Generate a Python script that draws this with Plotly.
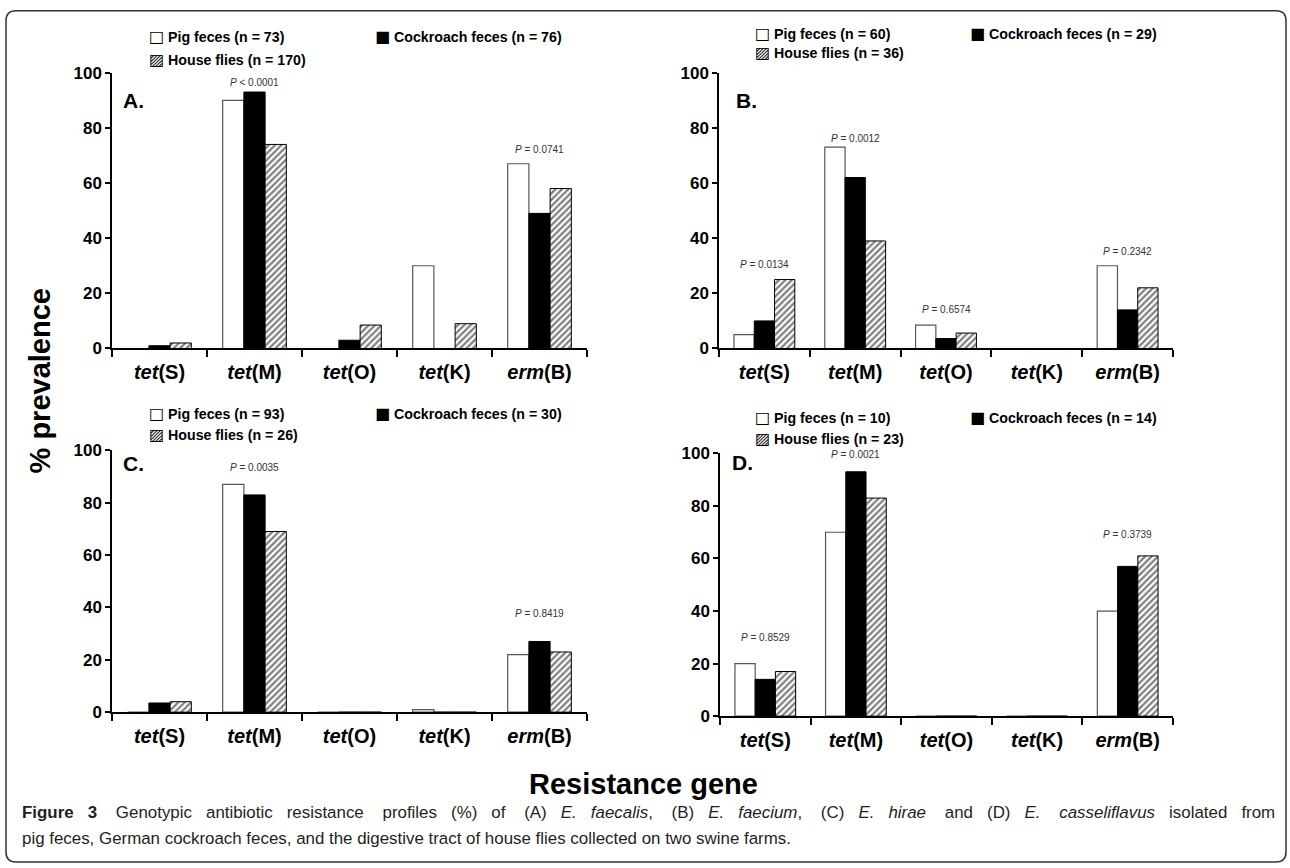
import plotly.graph_objects as go

# ---------------- data ----------------
genes = ["tet(S)", "tet(M)", "tet(O)", "tet(K)", "erm(B)"]
gene_ticktext = ["<i>tet</i>(S)", "<i>tet</i>(M)", "<i>tet</i>(O)", "<i>tet</i>(K)", "<i>erm</i>(B)"]
series_names = ["Pig feces", "Cockroach feces", "House flies"]

A_pig = [0, 90, 0, 30, 67]
A_cockroach = [1, 93, 3, 0, 49]
A_flies = [2, 74, 8.5, 9, 58]
A_n = [73, 76, 170]

B_pig = [5, 73, 8.5, 0, 30]
B_cockroach = [10, 62, 3.6, 0, 14]
B_flies = [25, 39, 5.6, 0, 22]
B_n = [60, 29, 36]

C_pig = [0, 87, 0, 1, 22]
C_cockroach = [3.5, 83, 0, 0, 27]
C_flies = [4, 69, 0, 0, 23]
C_n = [93, 30, 26]

D_pig = [20, 70, 0, 0, 40]
D_cockroach = [14, 93, 0, 0, 57]
D_flies = [17, 83, 0, 0, 61]
D_n = [10, 14, 23]

# p-values: (gene, text)
A_pvals = [("tet(M)", "< 0.0001"), ("erm(B)", "= 0.0741")]
B_pvals = [("tet(S)", "= 0.0134"), ("tet(M)", "= 0.0012"), ("tet(O)", "= 0.6574"), ("erm(B)", "= 0.2342")]
C_pvals = [("tet(M)", "= 0.0035"), ("erm(B)", "= 0.8419")]
D_pvals = [("tet(S)", "= 0.8529"), ("tet(M)", "= 0.0021"), ("erm(B)", "= 0.3739")]

# label heights (annotation placement, in axis units)
A_plab_y = [96.5, 72]
B_plab_y = [30.6, 76.3, 14.3, 35.2]
C_plab_y = [93.6, 37.5]
D_plab_y = [30, 99.5, 69]

# ---------------- layout helpers ----------------
W, H = 1290, 868
def px(x):
    return x / W
def py(y):
    # screen-pixel target -> paper fraction (compensates the capture's vertical offset/scale)
    yy = (y - 8.2) / 0.979
    return 1 - yy / H

FONT = "Liberation Sans"

panels = [
    dict(name="A", pig=A_pig, ck=A_cockroach, fl=A_flies, n=A_n, pv=A_pvals, ply=A_plab_y,
         x0=112, x1=587, ytop=72, ybot=348, letter=(133, 100),
         leg=dict(pig=(147, 36), ck=(373, 36), fl=(147, 59))),
    dict(name="B", pig=B_pig, ck=B_cockroach, fl=B_flies, n=B_n, pv=B_pvals, ply=B_plab_y,
         x0=719, x1=1173, ytop=72, ybot=348, letter=(746, 100),
         leg=dict(pig=(753, 33), ck=(968, 33), fl=(753, 52))),
    dict(name="C", pig=C_pig, ck=C_cockroach, fl=C_flies, n=C_n, pv=C_pvals, ply=C_plab_y,
         x0=112, x1=587, ytop=450, ybot=712, letter=(133, 463),
         leg=dict(pig=(147, 413), ck=(373, 413), fl=(147, 434))),
    dict(name="D", pig=D_pig, ck=D_cockroach, fl=D_flies, n=D_n, pv=D_pvals, ply=D_plab_y,
         x0=720, x1=1173, ytop=453, ybot=716, letter=(742, 462),
         leg=dict(pig=(753, 417), ck=(968, 417), fl=(753, 438))),
]

fig = go.Figure()
annotations = []
layout_axes = {}

for i, p in enumerate(panels, start=1):
    xs = "" if i == 1 else str(i)
    xref, yref = "x" + xs, "y" + xs
    fig.add_trace(go.Bar(
        x=genes, y=p["pig"], name=series_names[0], xaxis=xref, yaxis=yref,
        marker=dict(color="white", line=dict(color="#555555", width=1.2)),
        showlegend=False, hoverinfo="x+y"))
    fig.add_trace(go.Bar(
        x=genes, y=p["ck"], name=series_names[1], xaxis=xref, yaxis=yref,
        marker=dict(color="black", line=dict(color="black", width=1)),
        showlegend=False, hoverinfo="x+y"))
    fig.add_trace(go.Bar(
        x=genes, y=p["fl"], name=series_names[2], xaxis=xref, yaxis=yref,
        marker=dict(color="white", line=dict(color="black", width=1),
                    pattern=dict(shape="/", fgcolor="black", bgcolor="white", size=4.5, solidity=0.5)),
        showlegend=False, hoverinfo="x+y"))

    layout_axes["xaxis" + xs] = dict(
        domain=[px(p["x0"]), px(p["x1"])], anchor=yref,
        type="category", categoryorder="array", categoryarray=genes,
        tickvals=genes, ticktext=gene_ticktext,
        tickson="boundaries", ticks="outside", ticklen=7, tickwidth=1.5, tickcolor="black",
        ticklabelstandoff=5,
        showline=True, linecolor="black", linewidth=1.5, showgrid=False, zeroline=False,
        tickfont=dict(family=FONT, size=20, color="black", weight="bold"),
        fixedrange=True)
    layout_axes["yaxis" + xs] = dict(
        domain=[py(p["ybot"]), py(p["ytop"])], anchor=xref,
        range=[0, 100], dtick=20, ticks="outside", ticklen=5, tickwidth=1.5, tickcolor="black",
        showline=True, linecolor="black", linewidth=1.5, showgrid=False, zeroline=False,
        tickfont=dict(family=FONT, size=17, color="black", weight="bold"),
        fixedrange=True)

    # p-value labels
    for (g, t), yy in zip(p["pv"], p["ply"]):
        annotations.append(dict(x=g, y=yy, xref=xref, yref=yref, text="<i>P</i> " + t,
                                showarrow=False, xanchor="center", yanchor="middle",
                                font=dict(family=FONT, size=10, color="#333333")))
    # panel letter
    lx, ly = p["letter"]
    annotations.append(dict(x=px(lx), y=py(ly), xref="paper", yref="paper", text=p["name"] + ".",
                            showarrow=False, xanchor="center", yanchor="middle",
                            font=dict(family=FONT, size=21, color="black", weight="bold")))
    # legend entries
    glyphs = ["\u25a1", "\u25a0", "\u25a8"]
    keys = ["pig", "ck", "fl"]
    for g, k, nm, nn in zip(glyphs, keys, series_names, p["n"]):
        lx, ly = p["leg"][k]
        annotations.append(dict(x=px(lx), y=py(ly), xref="paper", yref="paper",
                                text=f"<span style='font-family:DejaVu Sans;font-size:16px'>{g}</span> {nm} (n = {nn})",
                                showarrow=False, xanchor="left", yanchor="middle",
                                font=dict(family=FONT, size=14.2, color="black", weight="bold")))

# shared axis titles
annotations.append(dict(x=px(40), y=py(381), xref="paper", yref="paper", text="% prevalence",
                        textangle=-90, showarrow=False, xanchor="center", yanchor="middle",
                        font=dict(family=FONT, size=29, color="black", weight="bold")))
annotations.append(dict(x=px(643), y=py(784), xref="paper", yref="paper", text="Resistance gene",
                        showarrow=False, xanchor="center", yanchor="middle",
                        font=dict(family=FONT, size=29, color="black", weight="bold")))

# caption (first line is justified in the original: widen the word gaps)
cap1_words = ["<b>Figure", "3</b>", "Genotypic", "antibiotic", "resistance", "profiles", "(%)", "of", "(A)",
              "<i>E.", "faecalis</i>,", "(B)", "<i>E.", "faecium</i>,", "(C)", "<i>E.", "hirae</i>", "and",
              "(D)", "<i>E.", "casseliflavus</i>", "isolated", "from"]
cap1 = cap1_words[0]
for j, wd in enumerate(cap1_words[1:]):
    gap = " " + "\u00a0" * (3 if j % 3 == 1 else 2)
    cap1 += gap + wd
cap2 = "pig feces, German cockroach feces, and the digestive tract of house flies collected on two swine farms."
annotations.append(dict(x=px(20), y=py(812), xref="paper", yref="paper", text=cap1,
                        showarrow=False, xanchor="left", yanchor="middle",
                        font=dict(family=FONT, size=16.9, color="#231f20")))
annotations.append(dict(x=px(20), y=py(838), xref="paper", yref="paper", text=cap2,
                        showarrow=False, xanchor="left", yanchor="middle",
                        font=dict(family=FONT, size=16.9, color="#231f20")))

# rounded border
x0b, y0b, x1b, y1b, r = 6, 10, 1286, 862, 10
path = (f"M {px(x0b + r)},{py(y0b)} L {px(x1b - r)},{py(y0b)} "
        f"Q {px(x1b)},{py(y0b)} {px(x1b)},{py(y0b + r)} "
        f"L {px(x1b)},{py(y1b - r)} Q {px(x1b)},{py(y1b)} {px(x1b - r)},{py(y1b)} "
        f"L {px(x0b + r)},{py(y1b)} Q {px(x0b)},{py(y1b)} {px(x0b)},{py(y1b - r)} "
        f"L {px(x0b)},{py(y0b + r)} Q {px(x0b)},{py(y0b)} {px(x0b + r)},{py(y0b)} Z")

fig.update_layout(
    width=W, height=H, margin=dict(l=0, r=0, t=0, b=0),
    paper_bgcolor="white", plot_bgcolor="white",
    barmode="group", bargap=0.33, bargroupgap=0,
    showlegend=False,
    annotations=annotations,
    shapes=[dict(type="path", path=path, xref="paper", yref="paper",
                 line=dict(color="#333333", width=1.5), fillcolor="rgba(0,0,0,0)")],
    **layout_axes,
)

fig.write_html(
    "out.html",
    config={"displayModeBar": False},
    post_script=("document.body.style.margin='0';document.body.style.padding='0';"
                 "document.documentElement.style.overflow='hidden';"
                 "var d=document.getElementById('{plot_id}');"
                 "d.style.position='fixed';d.style.top='0px';d.style.left='0px';"),
)
